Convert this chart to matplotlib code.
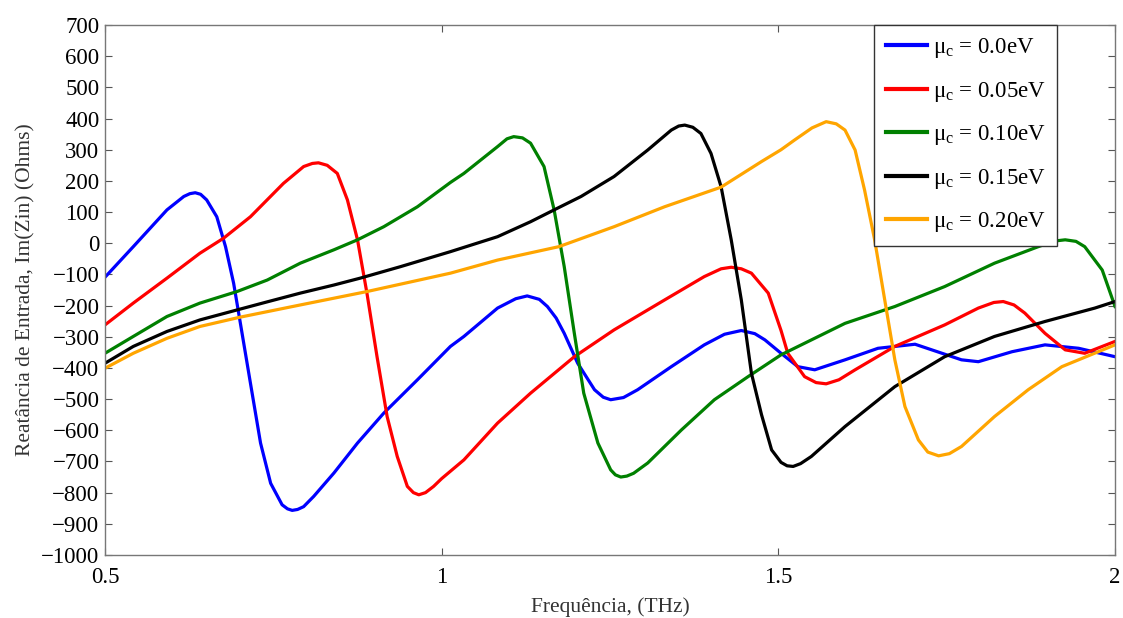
import matplotlib
matplotlib.use('Agg')
import matplotlib.pyplot as plt

plt.rcParams['font.family'] = ['Liberation Serif', 'DejaVu Serif']
plt.rcParams['mathtext.fontset'] = 'custom'
plt.rcParams['mathtext.rm'] = 'Liberation Serif'
plt.rcParams['mathtext.it'] = 'Liberation Serif'

# values (frequency in THz, reactance in Ohms)
f_00 = [0.5, 0.542, 0.592, 0.617, 0.626, 0.634, 0.642, 0.651, 0.666, 0.679, 0.691, 0.701, 0.716,
        0.731, 0.746, 0.763, 0.771, 0.778, 0.786, 0.795, 0.810, 0.840, 0.875, 0.914, 0.964, 1.013,
        1.033, 1.083, 1.110, 1.127, 1.145, 1.157, 1.170, 1.182, 1.202, 1.227, 1.240, 1.251, 1.270,
        1.291, 1.341, 1.390, 1.420, 1.445, 1.465, 1.480, 1.504, 1.529, 1.554, 1.599, 1.648, 1.703,
        1.743, 1.772, 1.797, 1.847, 1.896, 1.946, 2.0]
x_00 = [-109, -11, 107, 150, 159, 162, 157, 139, 85, -11, -128, -256, -449,
        -641, -770, -839, -852, -857, -854, -845, -812, -737, -641, -545, -438, -331,
        -299, -208, -178, -169, -180, -203, -240, -289, -385, -470, -494, -502, -495,
        -470, -396, -326, -292, -280, -290, -310, -353, -396, -406, -374, -337, -324,
        -353, -374, -380, -348, -326, -337, -364]

f_05 = [0.5, 0.542, 0.592, 0.641, 0.676, 0.716, 0.765, 0.795, 0.808, 0.817, 0.830, 0.845, 0.860,
        0.875, 0.889, 0.904, 0.919, 0.934, 0.949, 0.958, 0.966, 0.976, 0.988, 1.0, 1.033, 1.083,
        1.132, 1.197, 1.256, 1.331, 1.390, 1.415, 1.430, 1.445, 1.460, 1.485, 1.504, 1.514, 1.539,
        1.556, 1.571, 1.590, 1.614, 1.673, 1.747, 1.797, 1.820, 1.834, 1.850, 1.866, 1.896, 1.926,
        1.955, 2.0]
x_05 = [-262, -192, -112, -32, 16, 85, 192, 246, 256, 258, 250, 224, 139,
        11, -160, -364, -556, -684, -780, -800, -807, -800, -780, -755, -695, -577,
        -481, -364, -278, -182, -107, -82, -77, -82, -96, -160, -280, -353, -428,
        -447, -451, -438, -406, -331, -262, -208, -190, -187, -198, -224, -289, -342,
        -353, -315]

f_10 = [0.5, 0.542, 0.592, 0.641, 0.696, 0.741, 0.790, 0.840, 0.875, 0.914, 0.964, 1.013, 1.033,
        1.083, 1.097, 1.107, 1.120, 1.132, 1.152, 1.167, 1.182, 1.197, 1.211, 1.232, 1.251, 1.258,
        1.266, 1.275, 1.285, 1.306, 1.356, 1.405, 1.455, 1.504, 1.599, 1.673, 1.747, 1.821, 1.886,
        1.910, 1.926, 1.942, 1.955, 1.981, 2.0]
x_10 = [-353, -299, -235, -192, -155, -118, -64, -21, 11, 53, 117, 195, 224,
        310, 335, 342, 338, 321, 246, 107, -75, -289, -481, -641, -727, -743,
        -750, -747, -738, -705, -599, -502, -428, -358, -257, -203, -139, -64, -11,
        7, 11, 6, -11, -86, -203]

f_15 = [0.5, 0.542, 0.592, 0.641, 0.696, 0.741, 0.790, 0.840, 0.879, 0.939, 1.013, 1.083, 1.132,
        1.167, 1.207, 1.256, 1.306, 1.341, 1.352, 1.361, 1.373, 1.385, 1.400, 1.415, 1.430, 1.445,
        1.460, 1.475, 1.490, 1.504, 1.513, 1.522, 1.533, 1.549, 1.599, 1.673, 1.747, 1.821, 1.896,
        1.970, 2.0]
x_15 = [-385, -331, -283, -246, -214, -188, -160, -134, -112, -75, -27, 21, 69,
        107, 150, 214, 299, 363, 376, 379, 372, 352, 288, 181, 11, -182,
        -417, -550, -663, -703, -714, -716, -707, -684, -588, -460, -364, -299, -251,
        -208, -187]

f_20 = [0.5, 0.542, 0.592, 0.641, 0.701, 0.790, 0.889, 1.013, 1.083, 1.174, 1.256, 1.331, 1.415,
        1.475, 1.504, 1.524, 1.550, 1.571, 1.586, 1.599, 1.614, 1.628, 1.643, 1.658, 1.673, 1.688,
        1.708, 1.722, 1.738, 1.754, 1.772, 1.821, 1.871, 1.921, 2.0]
x_20 = [-401, -353, -305, -267, -237, -198, -155, -96, -54, -11, 53, 117, 180,
        262, 300, 331, 370, 390, 383, 363, 299, 171, 11, -182, -374, -524,
        -631, -670, -682, -675, -652, -556, -470, -396, -326]

labels = ['μ$_{\\rm c}$ = 0.0eV', 'μ$_{\\rm c}$ = 0.05eV', 'μ$_{\\rm c}$ = 0.10eV',
          'μ$_{\\rm c}$ = 0.15eV', 'μ$_{\\rm c}$ = 0.20eV']
colors = ['#0000ff', '#ff0000', '#008000', '#000000', '#ffa500']

fig = plt.figure(figsize=(11.23, 6.18), dpi=100)
ax = fig.add_axes([0.0935, 0.102, 0.8994, 0.8575])

series = [(f_00, x_00), (f_05, x_05), (f_10, x_10), (f_15, x_15), (f_20, x_20)]
for (f, x), lab, c in zip(series, labels, colors):
    ax.plot(f, x, color=c, lw=2.3, label=lab, solid_joinstyle='round')

ax.set_xlim(0.5, 2)
ax.set_ylim(-1000, 700)
ax.set_xticks([0.5, 1, 1.5, 2])
ax.set_xticklabels(['0.5', '1', '1.5', '2'])
ax.set_yticks(range(-1000, 701, 100))
ax.tick_params(direction='in', top=True, right=True, length=5, labelsize=16.5,
               color='#555555', pad=4)
ax.tick_params(axis='x', pad=9)
for s in ax.spines.values():
    s.set_color('#777777')
    s.set_linewidth(1.0)

ax.set_xlabel('Frequência, (THz)', fontsize=15.5, color='#333333', labelpad=6)
ax.set_ylabel('Reatância de Entrada, Im(Zin) (Ohms)', fontsize=15.5, color='#333333', labelpad=4)

leg = ax.legend(loc='upper right', bbox_to_anchor=(0.9426, 1.0), fontsize=16.5, frameon=True,
                fancybox=False, edgecolor='#333333', framealpha=1, borderaxespad=0,
                handlelength=1.8, handletextpad=0.25, labelspacing=0.85, borderpad=0.5)
leg.get_frame().set_linewidth(1.0)
for h in leg.get_lines():
    h.set_linewidth(3)

plt.savefig('out.png', dpi=100)
